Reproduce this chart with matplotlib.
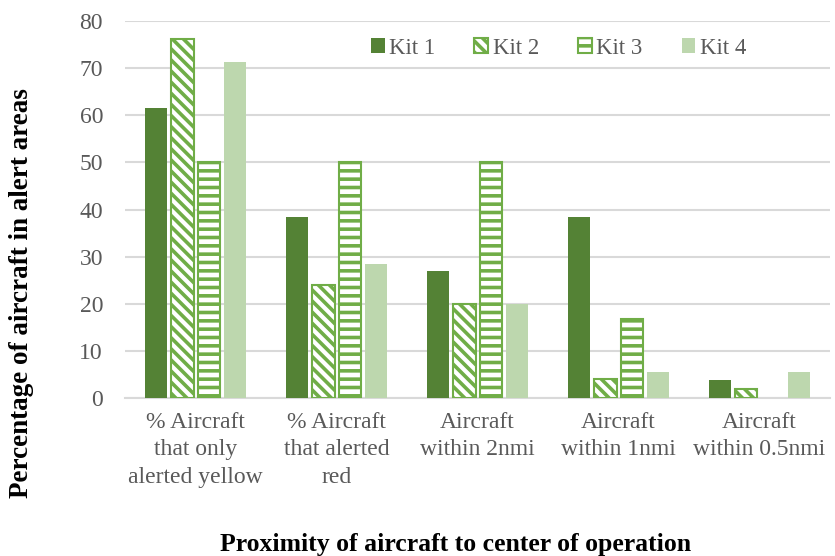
import numpy as np
import matplotlib.pyplot as plt

# data
categories = ['% Aircraft\nthat only\nalerted yellow', '% Aircraft\nthat alerted\nred',
              'Aircraft\nwithin 2nmi', 'Aircraft\nwithin 1nmi', 'Aircraft\nwithin 0.5nmi']
kit1 = [61.5, 38.4, 26.9, 38.4, 3.8]
kit2 = [76.2, 24.0, 20.0, 4.0, 2.0]
kit3 = [50.0, 50.0, 50.0, 16.7, 0.0]
kit4 = [71.4, 28.5, 20.0, 5.6, 5.6]
series = ['Kit 1', 'Kit 2', 'Kit 3', 'Kit 4']

plt.rcParams['font.family'] = ['Liberation Serif', 'DejaVu Serif']
plt.rcParams['hatch.linewidth'] = 2.6

dark = '#548235'
mid = '#70AD47'
light = '#BDD7AE'
grey = '#595959'

fig = plt.figure(figsize=(8.35, 5.56), dpi=100)
ax = fig.add_axes([0.15, 0.284, 0.844, 0.678])

x = np.arange(len(categories))
w = 0.158
step = 0.187

# no outline on zero-height bars
def edges(vals):
    return [1.5 if v > 0 else 0 for v in vals]

ax.bar(x - 1.5 * step, kit1, w, color=dark, label=series[0], zorder=3)
ax.bar(x - 0.5 * step, kit2, w, facecolor='white', edgecolor=mid, hatch='\\\\\\',
       linewidth=edges(kit2), label=series[1], zorder=3)
ax.bar(x + 0.5 * step, kit3, w, facecolor='white', edgecolor=mid, hatch='--',
       linewidth=edges(kit3), label=series[2], zorder=3)
ax.bar(x + 1.5 * step, kit4, w, color=light, label=series[3], zorder=3)

ax.set_xlim(-0.5, len(categories) - 0.5)
ax.set_ylim(0, 80)
ax.set_yticks(range(0, 81, 10))
ax.yaxis.grid(True, color='#D9D9D9', linewidth=1.5, zorder=0)
ax.set_axisbelow(True)
for s in ['top', 'right', 'left']:
    ax.spines[s].set_visible(False)
ax.spines['bottom'].set_color('#D9D9D9')
ax.spines['bottom'].set_linewidth(1.5)
ax.tick_params(axis='both', length=0, labelsize=17, labelcolor=grey)
ax.tick_params(axis='y', pad=16)
ax.tick_params(axis='x', pad=10)
ax.set_xticks(x)
ax.set_xticklabels(categories, linespacing=1.4)

ax.set_ylabel('Percentage of aircraft in alert areas', fontsize=19.5, fontweight='bold')
ax.yaxis.set_label_coords(-0.130, 0.278)
fig.text(0.545, 0.0, 'Proximity of aircraft to center of operation', fontsize=18.5,
         fontweight='bold', ha='center', va='bottom')

leg = ax.legend(loc='center', bbox_to_anchor=(0.615, 0.928), ncol=4, frameon=False,
                fontsize=16.5, handlelength=0.6, handleheight=0.6, columnspacing=1.7,
                handletextpad=0.2, labelcolor=grey)
for h in leg.legend_handles:
    h.set_linewidth(1.5)

fig.savefig('out.png', dpi=100)
